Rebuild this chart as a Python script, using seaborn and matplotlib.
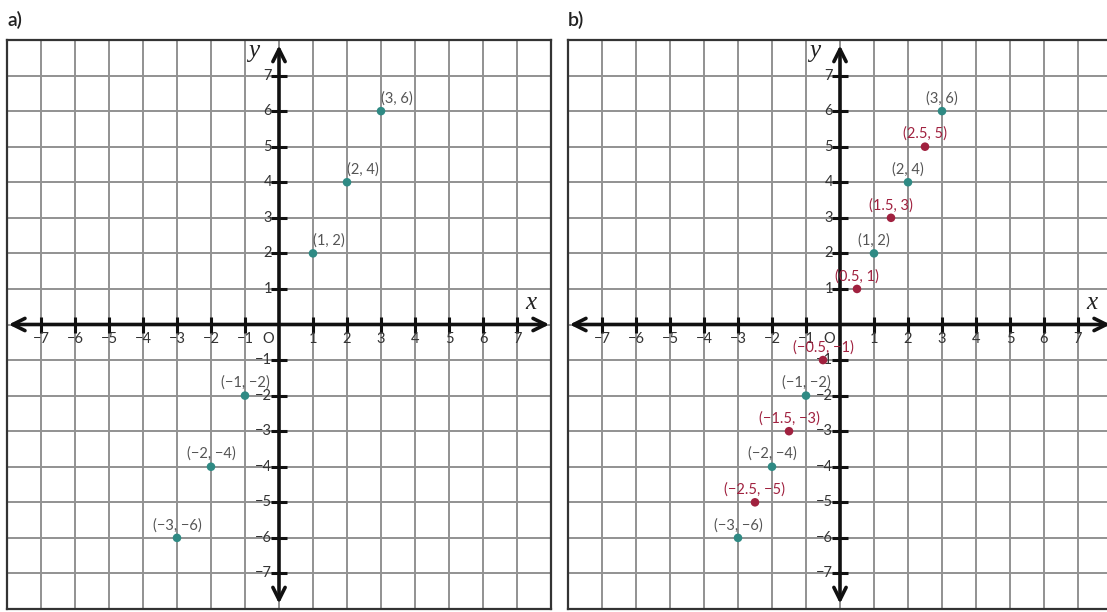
import matplotlib
matplotlib.use("Agg")
import matplotlib.pyplot as plt
import pandas as pd
import seaborn as sns

# integer ticks on both axes (origin has its own "O")
tick_vals = [-7, -6, -5, -4, -3, -2, -1, 1, 2, 3, 4, 5, 6, 7]
grid_vals = list(range(-8, 9))

# points of y = 2x
int_x = [1, 2, 3, -1, -2, -3]
int_y = [2, 4, 6, -2, -4, -6]
# extra half-step points in panel b
half_x = [0.5, 1.5, 2.5, -0.5, -1.5, -2.5]
half_y = [1, 3, 5, -1, -3, -5]

TEAL = "#2f8a84"
RED = "#a0213f"
GRAY_TXT = "#555555"

sns.set_style("white")
plt.rcParams["font.family"] = ["Lato", "DejaVu Sans"]


def fmt(v):
    s = f"{v:g}"
    return s.replace("-", "\u2212")


def draw_plane(ax):
    ax.set_xlim(-8, 8)
    ax.set_ylim(-8, 8)
    ax.set_xticks(grid_vals)
    ax.set_yticks(grid_vals)
    ax.tick_params(length=0, labelbottom=False, labelleft=False)
    ax.grid(True, color="#929292", lw=1.4)
    for sp in ax.spines.values():
        sp.set_color("#333333")
        sp.set_linewidth(1.6)
    # axes with arrows at both ends
    ax.annotate("", xy=(7.95, 0), xytext=(-7.95, 0),
                arrowprops=dict(arrowstyle="<->", lw=2.6, color="#111111",
                                mutation_scale=22, shrinkA=0, shrinkB=0))
    ax.annotate("", xy=(0, 7.85), xytext=(0, -7.85),
                arrowprops=dict(arrowstyle="<->", lw=2.6, color="#111111",
                                mutation_scale=22, shrinkA=0, shrinkB=0))
    # little cross ticks
    ax.plot(tick_vals, [0] * len(tick_vals), ls="none", marker="|",
            ms=11, mew=2.2, color="#111111", zorder=3)
    ax.plot([0] * len(tick_vals), tick_vals, ls="none", marker="_",
            ms=11, mew=2.2, color="#111111", zorder=3)
    for t in tick_vals:
        ax.text(t, -0.4, fmt(t), ha="center", va="center", fontsize=10.5,
                color="#333333")
        ax.text(-0.2, t, fmt(t), ha="right", va="center", fontsize=10.5,
                color="#333333")
    ax.text(-0.33, -0.4, "O", ha="center", va="center", fontsize=10.5,
            color="#333333")
    ax.text(-0.75, 7.7, "y", fontsize=18, style="italic",
            family="Liberation Serif", ha="center", va="center",
            color="#222222")
    ax.text(7.4, 0.6, "x", fontsize=18, style="italic",
            family="Liberation Serif", ha="center", va="center",
            color="#222222")


def label_points(ax, xs, ys, color, left_pos=False):
    for x, y in zip(xs, ys):
        ha = "left" if (left_pos and x > 0) else "center"
        ax.annotate(f"({fmt(x)}, {fmt(y)})", (x, y), xytext=(0, 4),
                    textcoords="offset points", ha=ha, va="bottom",
                    fontsize=10.5, color=color, zorder=5)


fig = plt.figure(figsize=(11.07, 6.12), dpi=100)
ax_a = fig.add_axes([7 / 1107, 3 / 612, 544 / 1107, 569 / 612])
ax_b = fig.add_axes([568 / 1107, 3 / 612, 544 / 1107, 569 / 612])

df_int = pd.DataFrame({"x": int_x, "y": int_y})
df_half = pd.DataFrame({"x": half_x, "y": half_y})

draw_plane(ax_a)
sns.scatterplot(data=df_int, x="x", y="y", ax=ax_a, color=TEAL, s=38,
                edgecolor="none", zorder=4)
label_points(ax_a, int_x, int_y, GRAY_TXT, left_pos=True)

draw_plane(ax_b)
sns.scatterplot(data=df_int, x="x", y="y", ax=ax_b, color=TEAL, s=38,
                edgecolor="none", zorder=4)
sns.scatterplot(data=df_half, x="x", y="y", ax=ax_b, color=RED, s=38,
                edgecolor="none", zorder=4)
label_points(ax_b, int_x, int_y, GRAY_TXT)
label_points(ax_b, half_x, half_y, RED)

for ax in (ax_a, ax_b):
    ax.set_xlabel("")
    ax.set_ylabel("")
    ax.set_xticks(grid_vals)
    ax.set_yticks(grid_vals)
    ax.set_xlim(-8, 8)
    ax.set_ylim(-8, 8)

fig.text(8 / 1107, 1 - 20 / 612, "a)", fontsize=14, va="center", ha="left",
         color="#222222", weight="semibold")
fig.text(568 / 1107, 1 - 20 / 612, "b)", fontsize=14, va="center", ha="left",
         color="#222222", weight="semibold")

fig.savefig("out.png", dpi=100)
